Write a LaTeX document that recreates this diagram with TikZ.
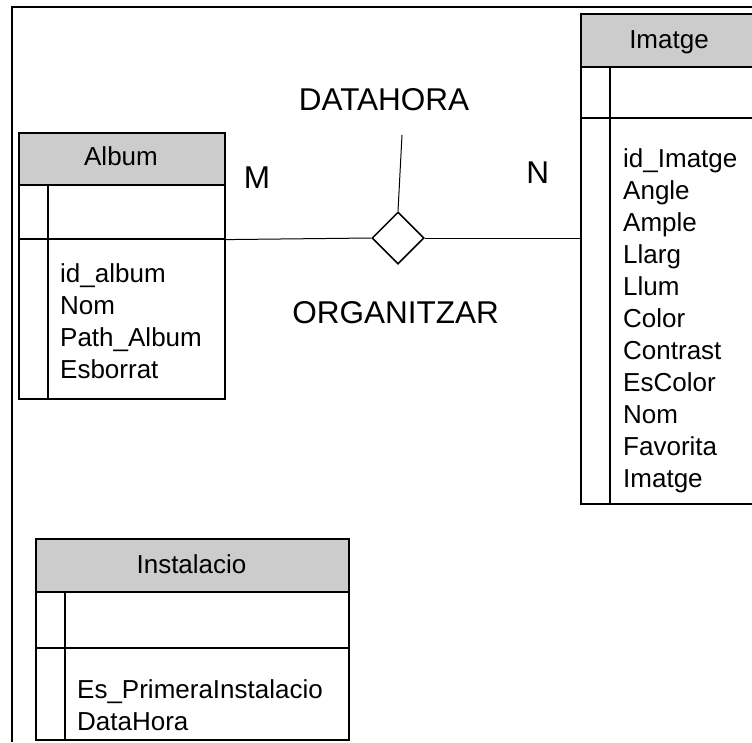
\documentclass[tikz,border=0pt]{standalone}
\usepackage{fontspec}
\setmainfont{Liberation Sans}
\usetikzlibrary{shapes.geometric}
\definecolor{headgray}{RGB}{204,204,204}
\newcommand{\entfont}{\fontsize{26}{32}\selectfont}
\newcommand{\relfont}{\fontsize{31.5}{38}\selectfont}
\tikzset{
  entrow/.style={draw,line width=1.6pt,anchor=north west,inner sep=0pt},
  enthead/.style={entrow,fill=headgray},
  enttitle/.style={anchor=base,inner sep=0pt,font=\entfont},
  entattr/.style={anchor=base west,inner sep=0pt,align=left,font=\entfont},
  relbox/.style={draw,diamond,line width=1.5pt,minimum width=52pt,minimum height=52pt,inner sep=0pt,fill=white},
  relname/.style={anchor=base,inner sep=0pt,font=\relfont}
}

\begin{document}
\begin{tikzpicture}[x=1pt,y=-1pt]
\useasboundingbox (0,0) rectangle (752,742);

% frame
\draw[line width=1.2pt] (12,742) -- (12,7) -- (752,7);

% Album
\node[enthead,minimum width=206pt,minimum height=52pt] (albumHead) at (18,132) {};
\node[entrow,minimum width=206pt,minimum height=54pt] (albumKey) at (18,184) {};
\node[entrow,minimum width=206pt,minimum height=160pt] (albumAttr) at (18,238) {};
\draw[line width=1.6pt] ([xshift=30pt]albumKey.north west) -- ([xshift=30pt]albumAttr.south west);
\node[enttitle] (albumName) at (121,165) {Album};
% base = last line
\node[entattr] (albumList) at (60,378.5) {id\_album\\Nom\\Path\_Album\\Esborrat};

% Imatge
\node[enthead,minimum width=178pt,minimum height=53pt] (imatgeHead) at (580,13) {};
\node[entrow,minimum width=178pt,minimum height=51pt] (imatgeKey) at (580,66) {};
\node[entrow,minimum width=178pt,minimum height=386pt] (imatgeAttr) at (580,117) {};
\draw[line width=1.6pt] ([xshift=30pt]imatgeKey.north west) -- ([xshift=30pt]imatgeAttr.south west);
\node[enttitle] (imatgeName) at (669,48) {Imatge};
\node[entattr] (imatgeList) at (623,487) {id\_Imatge\\Angle\\Ample\\Llarg\\Llum\\Color\\Contrast\\EsColor\\Nom\\Favorita\\Imatge};

% Instalacio
\node[enthead,minimum width=313pt,minimum height=53pt] (instHead) at (35,538) {};
\node[entrow,minimum width=313pt,minimum height=56pt] (instKey) at (35,591) {};
\node[entrow,minimum width=313pt,minimum height=92pt] (instAttr) at (35,647) {};
\draw[line width=1.6pt] ([xshift=30pt]instKey.north west) -- ([xshift=30pt]instAttr.south west);
\node[enttitle] (instName) at (191.5,573) {Instalacio};
\node[entattr] (instList) at (77,730) {Es\_PrimeraInstalacio\\DataHora};

% relacio
\node[relbox] (organitzar) at (398,238) {};
\coordinate (dataTop) at (402,135);
\draw[line width=1pt] (albumKey.south east) -- (organitzar.west);
\draw[line width=1pt] (organitzar.east) -- (organitzar.east -| imatgeAttr.west);
\draw[line width=1pt] (organitzar.north) -- (dataTop);

\node[relname] (dataHora) at (384,110) {DATAHORA};
\node[relname] (organitzarName) at (395.5,323) {ORGANITZAR};
\node[relname] (cardM) at (257,188) {M};
\node[relname] (cardN) at (537.7,183) {N};

\end{tikzpicture}
\end{document}
